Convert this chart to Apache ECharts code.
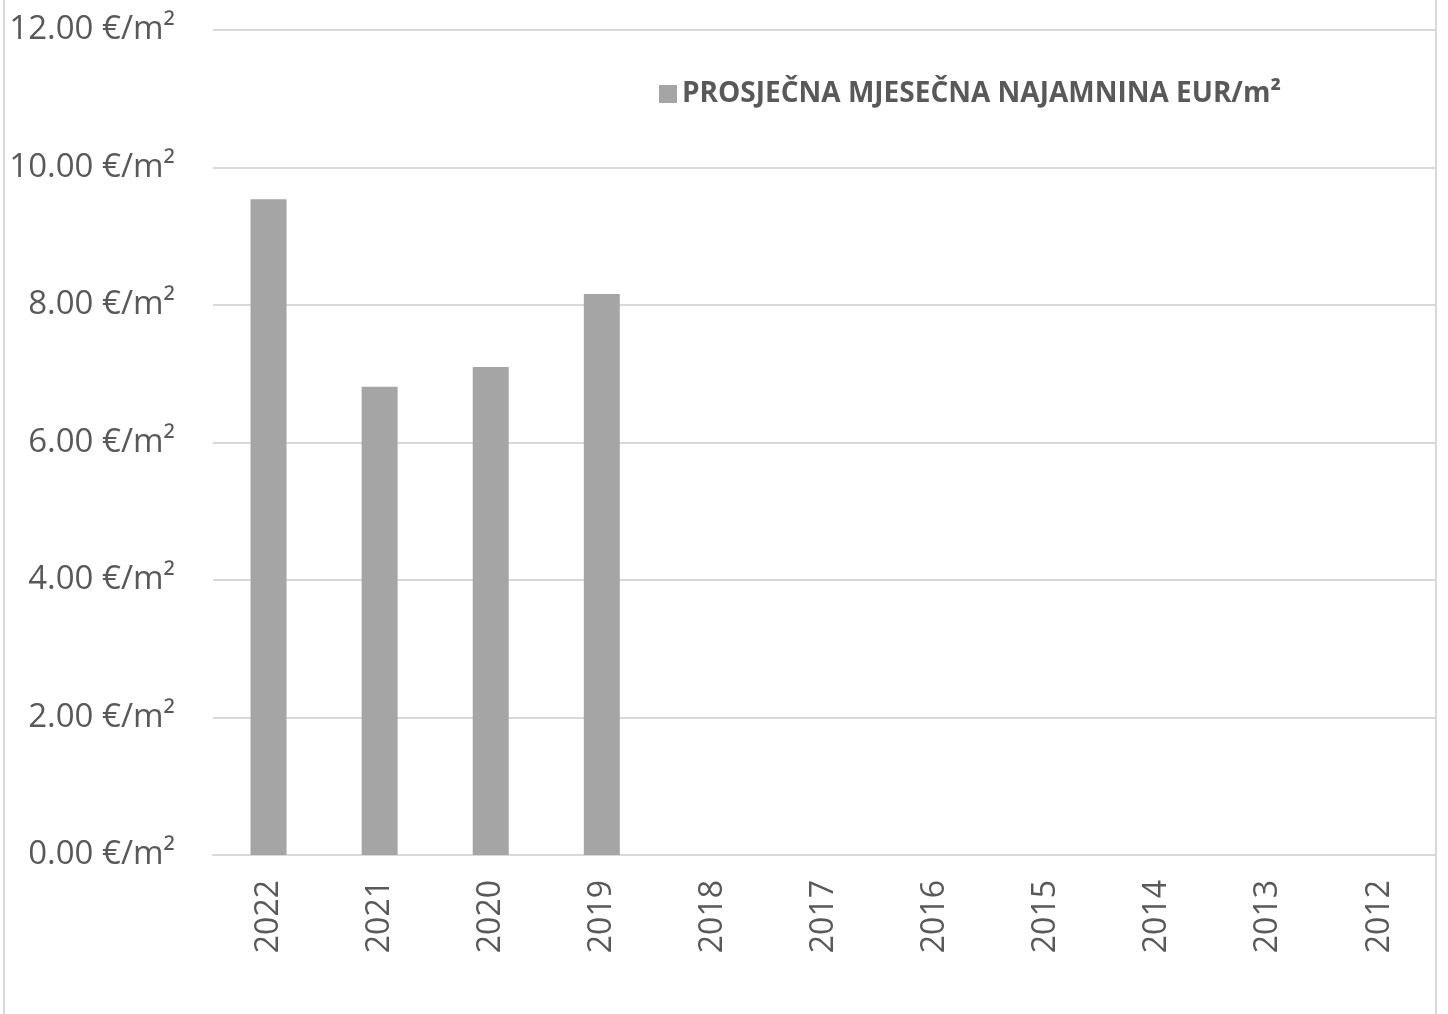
<!DOCTYPE html>
<html>
<head>
<meta charset="utf-8">
<script src="https://cdn.jsdelivr.net/npm/echarts@6/dist/echarts.min.js"></script>
<style>
  html, body { margin: 0; padding: 0; background: #fff; }
  #chart { width: 1448px; height: 1014px; }
</style>
</head>
<body>
<div id="chart"></div>
<script>
// podaci
const years = ['2022', '2021', '2020', '2019', '2018', '2017', '2016', '2015', '2014', '2013', '2012']
const rent = [9.54, 6.81, 7.10, 8.16, null, null, null, null, null, null, null]
const seriesName = 'PROSJEČNA MJESEČNA NAJAMNINA EUR/m²'

const myChart = echarts.init(document.getElementById('chart'))
const option = {
  animation: false,
  backgroundColor: '#fff',
  textStyle: { fontFamily: 'Open Sans, Liberation Sans, sans-serif' },
  // okvir
  graphic: [{
    type: 'rect',
    shape: { x: 4, y: -2, width: 1432, height: 1020 },
    style: { fill: 'none', stroke: '#d9d9d9', lineWidth: 2 },
    silent: true
  }],
  legend: {
    data: [seriesName],
    left: 654,
    top: 75,
    icon: 'rect',
    itemWidth: 18,
    itemHeight: 18,
    textStyle: {
      color: '#595959',
      fontSize: 28,
      fontWeight: 'bold',
      fontFamily: 'Open Sans, sans-serif'
    }
  },
  grid: {
    left: 213,
    right: 13,
    top: 30,
    bottom: 159,
    containLabel: false
  },
  xAxis: {
    type: 'category',
    data: years,
    axisLine: { lineStyle: { color: '#d9d9d9', width: 2 } },
    axisTick: { show: false },
    axisLabel: {
      rotate: 90,
      margin: 25,
      color: '#595959',
      fontSize: 32,
      fontFamily: 'Open Sans, sans-serif'
    }
  },
  yAxis: {
    type: 'value',
    min: 0,
    max: 12,
    interval: 2,
    axisLine: { show: false },
    axisTick: { show: false },
    splitLine: { lineStyle: { color: '#d9d9d9', width: 2 } },
    axisLabel: {
      margin: 38,
      color: '#595959',
      fontSize: 33,
      fontFamily: 'Open Sans, sans-serif',
      formatter: v => v.toFixed(2) + ' €/m²'
    }
  },
  series: [{
    name: seriesName,
    type: 'bar',
    barWidth: 36,
    itemStyle: { color: '#a5a5a5' },
    data: rent
  }]
}
myChart.setOption(option)
</script>
</body>
</html>
